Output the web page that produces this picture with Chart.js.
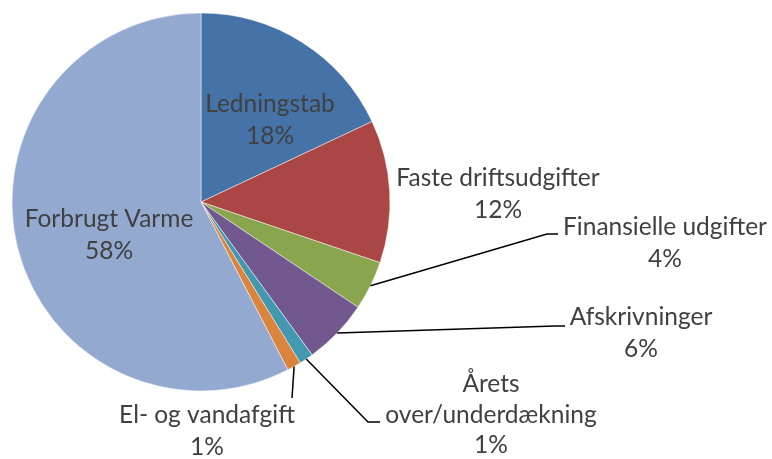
<!DOCTYPE html>
<html>
<head>
<meta charset="utf-8">
<script src="https://cdn.jsdelivr.net/npm/chart.js@4.4.1/dist/chart.umd.min.js"></script>
<style>
    html, body { margin: 0; padding: 0; background: #fff; }
    #wrap { width: 772px; height: 459px; }
</style>
</head>
<body>
<div id="wrap"><canvas id="chartPie" width="772" height="459"></canvas></div>
<script>
// Données du graphique
const categories = [
    'Ledningstab',
    'Faste driftsudgifter',
    'Finansielle udgifter',
    'Afskrivninger',
    'Årets over/underdækning',
    'El- og vandafgift',
    'Forbrugt Varme'
];
const values = [18.0, 12.2, 4.2, 5.6, 1.2, 1.2, 57.6];
const colors = ['#4572A7', '#AA4643', '#89A54E', '#71588F', '#4198AF', '#DB843D', '#93A9CF'];

// Placement des étiquettes (x centre, ligne de base, interligne, coude du trait)
const labelLayout = [
    { x: 270, y: 112, lh: 32 },
    { x: 498, y: 186, lh: 32 },
    { x: 665, y: 235, lh: 32, leader: [[547, 234], [558, 234]] },
    { x: 641, y: 325, lh: 32, leader: [[555, 326], [565, 326]] },
    { x: 491, y: 392, lh: 30.5, wrap: true, leader: [[368, 422], [380, 422]] },
    { x: 207, y: 423, lh: 32, leader: [[292, 398]] },
    { x: 109, y: 227, lh: 32 }
];

const FONT = '24.5px Lato, "Liberation Sans", sans-serif';

const pieLabels = {
    id: 'pieLabels',
    afterDatasetsDraw(chart) {
        const ctx = chart.ctx;
        const arcs = chart.getDatasetMeta(0).data;
        const total = values.reduce((a, b) => a + b, 0);

        ctx.save();
        // Traits de rappel
        ctx.strokeStyle = '#000';
        ctx.lineWidth = 1.5;
        arcs.forEach((arc, i) => {
            const lay = labelLayout[i];
            if (!lay.leader) return;
            const p = arc.getProps(['x', 'y', 'startAngle', 'endAngle', 'outerRadius'], true);
            const mid = (p.startAngle + p.endAngle) / 2;
            ctx.beginPath();
            ctx.moveTo(p.x + Math.cos(mid) * p.outerRadius, p.y + Math.sin(mid) * p.outerRadius);
            lay.leader.forEach(pt => ctx.lineTo(pt[0], pt[1]));
            ctx.stroke();
        });

        // Textes
        ctx.fillStyle = '#404040';
        ctx.font = FONT;
        ctx.textAlign = 'center';
        ctx.textBaseline = 'alphabetic';
        categories.forEach((name, i) => {
            const lay = labelLayout[i];
            const lines = lay.wrap ? name.split(/ (.+)/).filter(Boolean) : [name];
            lines.push(Math.round(values[i] / total * 100) + '%');
            lines.forEach((t, k) => ctx.fillText(t, lay.x, lay.y + k * lay.lh));
        });
        ctx.restore();
    }
};

new Chart(document.getElementById('chartPie'), {
    type: 'pie',
    data: {
        labels: categories,
        datasets: [{
            data: values,
            backgroundColor: colors,
            borderColor: 'rgba(255,255,255,0.6)',
            borderWidth: 0.8,
            radius: 189
        }]
    },
    options: {
        responsive: false,
        animation: false,
        layout: { padding: { left: 10, right: 380, top: 10, bottom: 65 } },
        plugins: {
            legend: { display: false },
            tooltip: { enabled: false }
        }
    },
    plugins: [pieLabels]
});
</script>
</body>
</html>
